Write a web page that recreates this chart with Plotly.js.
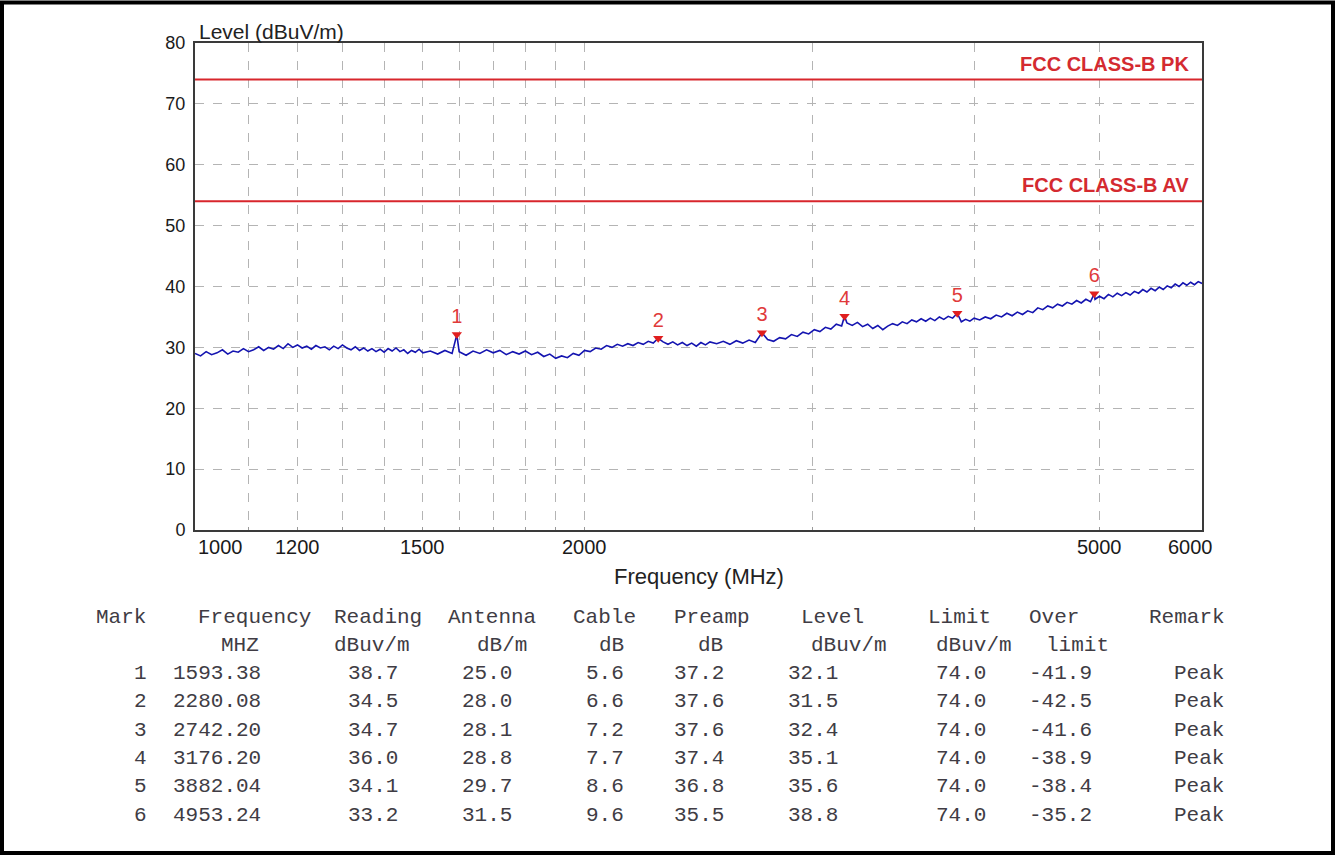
<!DOCTYPE html>
<html><head><meta charset="utf-8">
<script src="https://cdn.plot.ly/plotly-3.0.1.min.js"></script>
<style>html,body{margin:0;padding:0;background:#fff}#chart{width:1338px;height:855px}</style>
</head><body><div id="chart"></div>
<script>
// ---- spectrum sweep ----
const specFreq = [
1000,1010,1020,1030,1040,1050,1060,1070,1080,1090,
1100,1110,1120,1130,1140,1150,1160,1170,1180,1190,
1200,1210,1220,1230,1240,1250,1260,1270,1280,1290,
1300,1310,1320,1330,1340,1350,1360,1370,1380,1390,
1400,1410,1420,1430,1440,1450,1460,1470,1480,1490,
1500,
1520,1540,1560,1580,1593.38,1600,1620,1640,1660,1680,
1700,1720,1740,1760,1780,1800,1820,1840,1860,1880,
1900,1920,1940,1960,1980,2000,2020,2040,2060,2080,
2100,2120,2140,2160,2180,2200,2220,2240,2260,2280.08,
2300,2320,2340,2360,2380,2400,2420,2440,2460,2480,2500,
2530,2560,2590,2620,2650,2680,2710,2742.2,
2770,2800,2830,2860,2890,2920,2950,2980,3010,3040,3070,3100,3130,3160,
3176.2,
3190,3220,3250,3280,3310,3340,3370,3400,3430,3460,3490,3520,3550,3580,3610,3640,3670,3700,3730,3760,3790,3820,3850,
3882.04,
3910,3940,3970,4000,
4040,4080,4120,4160,4200,4240,4280,4320,4360,4400,4440,4480,4520,4560,4600,4640,4680,4720,4760,4800,4840,4880,4920,
4953.24,
4960,5000,5040,5080,5120,5160,5200,5240,5280,5320,5360,5400,5440,5480,5520,5560,5600,5640,5680,5720,5760,5800,5840,5880,5920,5960,6000
];
const specLevel = [
29.0,28.6,29.3,28.8,29.1,29.6,28.9,29.4,29.2,29.8,
29.3,29.6,30.1,29.5,30.0,29.7,30.3,29.8,30.6,30.0,
30.4,29.9,30.2,29.7,30.3,29.9,30.1,29.6,30.2,29.8,
30.4,29.9,29.6,30.1,29.5,29.9,29.4,29.8,29.3,29.7,
29.2,29.8,29.4,29.9,29.3,29.6,29.0,29.5,29.2,29.7,
29.1,
29.4,28.9,29.5,29.0,32.1,29.3,28.7,29.4,29.0,29.6,
29.1,29.5,28.8,29.3,28.9,29.4,28.8,29.2,28.5,28.9,
28.2,28.6,28.3,29.0,28.7,29.5,29.3,29.9,29.7,30.3,
30.0,30.5,30.2,30.6,30.3,30.8,30.5,31.0,30.7,31.5,
30.9,30.5,30.9,30.4,30.8,30.3,30.7,30.2,30.8,30.4,30.9,
30.6,31.0,30.5,31.1,30.7,31.2,30.8,32.4,
31.3,31.0,31.6,31.4,32.1,31.8,32.5,32.2,32.9,32.6,33.3,33.0,33.8,33.5,
35.1,
34.0,33.6,34.1,33.4,33.8,33.1,33.6,32.9,33.5,33.9,33.6,34.2,33.9,34.5,34.2,34.7,34.3,34.8,34.4,35.0,34.6,35.1,34.8,
35.6,
34.2,34.6,34.3,34.8,
34.5,35.0,34.7,35.3,35.0,35.6,35.2,35.8,35.4,36.0,35.7,36.5,36.2,36.8,36.5,37.1,36.8,37.4,37.1,37.7,37.3,37.9,37.5,
38.8,
37.9,38.4,38.0,38.7,38.3,38.9,38.5,39.0,38.6,39.2,38.9,39.5,39.1,39.7,39.3,39.9,39.5,40.1,39.8,40.4,40.0,40.6,40.2,40.7,40.3,40.8,40.5
];

// ---- limits ----
const freqRange = [1000, 6000];
const limitNames = ['FCC CLASS-B PK', 'FCC CLASS-B AV'];
const limitValues = [74, 54];

// ---- axes ----
const yTicks = [0,10,20,30,40,50,60,70,80];
const xGrid = [1100,1200,1300,1400,1500,1600,1700,1800,1900,2000,3000,4000,5000];
const xLabels = [1000,1200,1500,2000,5000,6000];

// ---- marker table ----
const marks = [1,2,3,4,5,6];
const markFreq = [1593.38,2280.08,2742.20,3176.20,3882.04,4953.24];
const reading = [38.7,34.5,34.7,36.0,34.1,33.2];
const antenna = [25.0,28.0,28.1,28.8,29.7,31.5];
const cable = [5.6,6.6,7.2,7.7,8.6,9.6];
const preamp = [37.2,37.6,37.6,37.4,36.8,35.5];
const markLevel = [32.1,31.5,32.4,35.1,35.6,38.8];
const limitCol = [74.0,74.0,74.0,74.0,74.0,74.0];
const overLimit = [-41.9,-42.5,-41.6,-38.9,-38.4,-35.2];
const remark = ['Peak','Peak','Peak','Peak','Peak','Peak'];

// ---- pixel helpers (layout only) ----
const L=195, R=1202, T=43, B=530;
const PX = x => (x-L)/(R-L);
const PY = y => (B-y)/(B-T);

const SANS = 'Liberation Sans, Arial, sans-serif';
const MONO = 'Liberation Mono, Courier New, monospace';
const RED = '#d8262c';

const traces = [
  {x: specFreq, y: specLevel, type:'scatter', mode:'lines',
   line:{color:'#1414b0', width:1.6}, hoverinfo:'skip'},
];
limitValues.forEach(v => traces.push({
  x: freqRange, y: [v, v], type:'scatter', mode:'lines',
  line:{color:RED, width:2}, hoverinfo:'skip'}));
traces.push({
  x: markFreq, y: markLevel, type:'scatter', mode:'markers+text',
  text: marks.map(String), textposition:'top center',
  textfont:{family:SANS, size:20, color:'#e03a3a'},
  marker:{symbol:'triangle-down', size:9, color:'#e01e1e'},
  cliponaxis:false, hoverinfo:'skip'});

const ann = [];
// axis titles
ann.push({xref:'paper', yref:'paper', x:PX(197), y:PY(31), xanchor:'left', yanchor:'middle',
  text:'Level (dBuV/m)', showarrow:false, font:{family:SANS, size:21, color:'#222'}});
ann.push({xref:'paper', yref:'paper', x:0.5, y:PY(576), xanchor:'center', yanchor:'middle',
  text:'Frequency (MHz)', showarrow:false, font:{family:SANS, size:22, color:'#222'}});
// x tick labels
xLabels.forEach((v,i) => {
  let xa='center', xs=0;
  if (i===0) { xa='left'; xs=1; }
  if (i===xLabels.length-1) { xs=-12; }
  ann.push({xref:'x', yref:'paper', x:Math.log10(v), y:PY(547), xanchor:xa, xshift:xs,
    yanchor:'middle', text:String(v), showarrow:false,
    font:{family:SANS, size:20, color:'#1a1a1a'}});
});
// limit labels
limitNames.forEach((n,i) => ann.push({xref:'x', yref:'y', x:Math.log10(freqRange[1]), y:limitValues[i],
  xanchor:'right', yanchor:'bottom', xshift:-11, yshift:3, text:n, showarrow:false,
  font:{family:SANS, size:20, color:'#d42a30', weight:'bold'}}));

// table
const fmt1 = a => a.map(v => v.toFixed(1));
const columns = [
  {h:'Mark', u:'', v:marks.map(String), hx:95, ux:0, vx:133},
  {h:'Frequency', u:'MHZ', v:markFreq.map(v=>v.toFixed(2)), hx:197, ux:220, vx:172},
  {h:'Reading', u:'dBuv/m', v:fmt1(reading), hx:333, ux:333, vx:347},
  {h:'Antenna', u:'dB/m', v:fmt1(antenna), hx:447, ux:476, vx:461},
  {h:'Cable', u:'dB', v:fmt1(cable), hx:572, ux:598, vx:585},
  {h:'Preamp', u:'dB', v:fmt1(preamp), hx:673, ux:697, vx:673},
  {h:'Level', u:'dBuv/m', v:fmt1(markLevel), hx:800, ux:810, vx:787},
  {h:'Limit', u:'dBuv/m', v:fmt1(limitCol), hx:927, ux:935, vx:935},
  {h:'Over', u:'limit', v:fmt1(overLimit), hx:1028, ux:1045, vx:1028},
  {h:'Remark', u:'', v:remark, hx:1148, ux:0, vx:1173},
];
const rowY0 = 617, rowStep = 28.3;
const cell = (t, x, y) => ann.push({xref:'paper', yref:'paper', x:PX(x-1), y:PY(y),
  xanchor:'left', yanchor:'middle', text:t, showarrow:false,
  font:{family:MONO, size:21, color:'#403c44'}});
columns.forEach(c => {
  cell(c.h, c.hx, rowY0);
  if (c.u) cell(c.u, c.ux, rowY0 + rowStep);
  c.v.forEach((t,i) => cell(t, c.vx, rowY0 + rowStep*(i+2)));
});

const layout = {
  width:1338, height:855,
  margin:{l:L, r:1338-R, t:T, b:855-B, pad:0},
  paper_bgcolor:'#fff', plot_bgcolor:'#fff',
  showlegend:false, hovermode:false,
  xaxis:{type:'log', range:[3, Math.log10(6000)], tickvals:xGrid, showticklabels:false,
    ticks:'inside', ticklen:3, tickcolor:'#9a9a9a',
    showgrid:true, gridcolor:'#b4b4b4', griddash:'dash', gridwidth:1,
    showline:true, mirror:true, linecolor:'#3a3a3a', linewidth:2, zeroline:false},
  yaxis:{range:[0,80], tickvals:yTicks, ticks:'', ticklabelstandoff:4,
    tickfont:{family:SANS, size:18, color:'#1a1a1a'},
    showgrid:true, gridcolor:'#b4b4b4', griddash:'dash', gridwidth:1,
    showline:true, mirror:true, linecolor:'#3a3a3a', linewidth:2, zeroline:false},
  annotations: ann,
  shapes:[{type:'rect', xref:'paper', yref:'paper', x0:PX(2), x1:PX(1333), y0:PY(2.5), y1:PY(853),
    line:{color:'#000', width:4}, fillcolor:'rgba(0,0,0,0)', layer:'above'}]
};

Plotly.newPlot('chart', traces, layout, {displayModeBar:false, staticPlot:true});
</script>
</body></html>
